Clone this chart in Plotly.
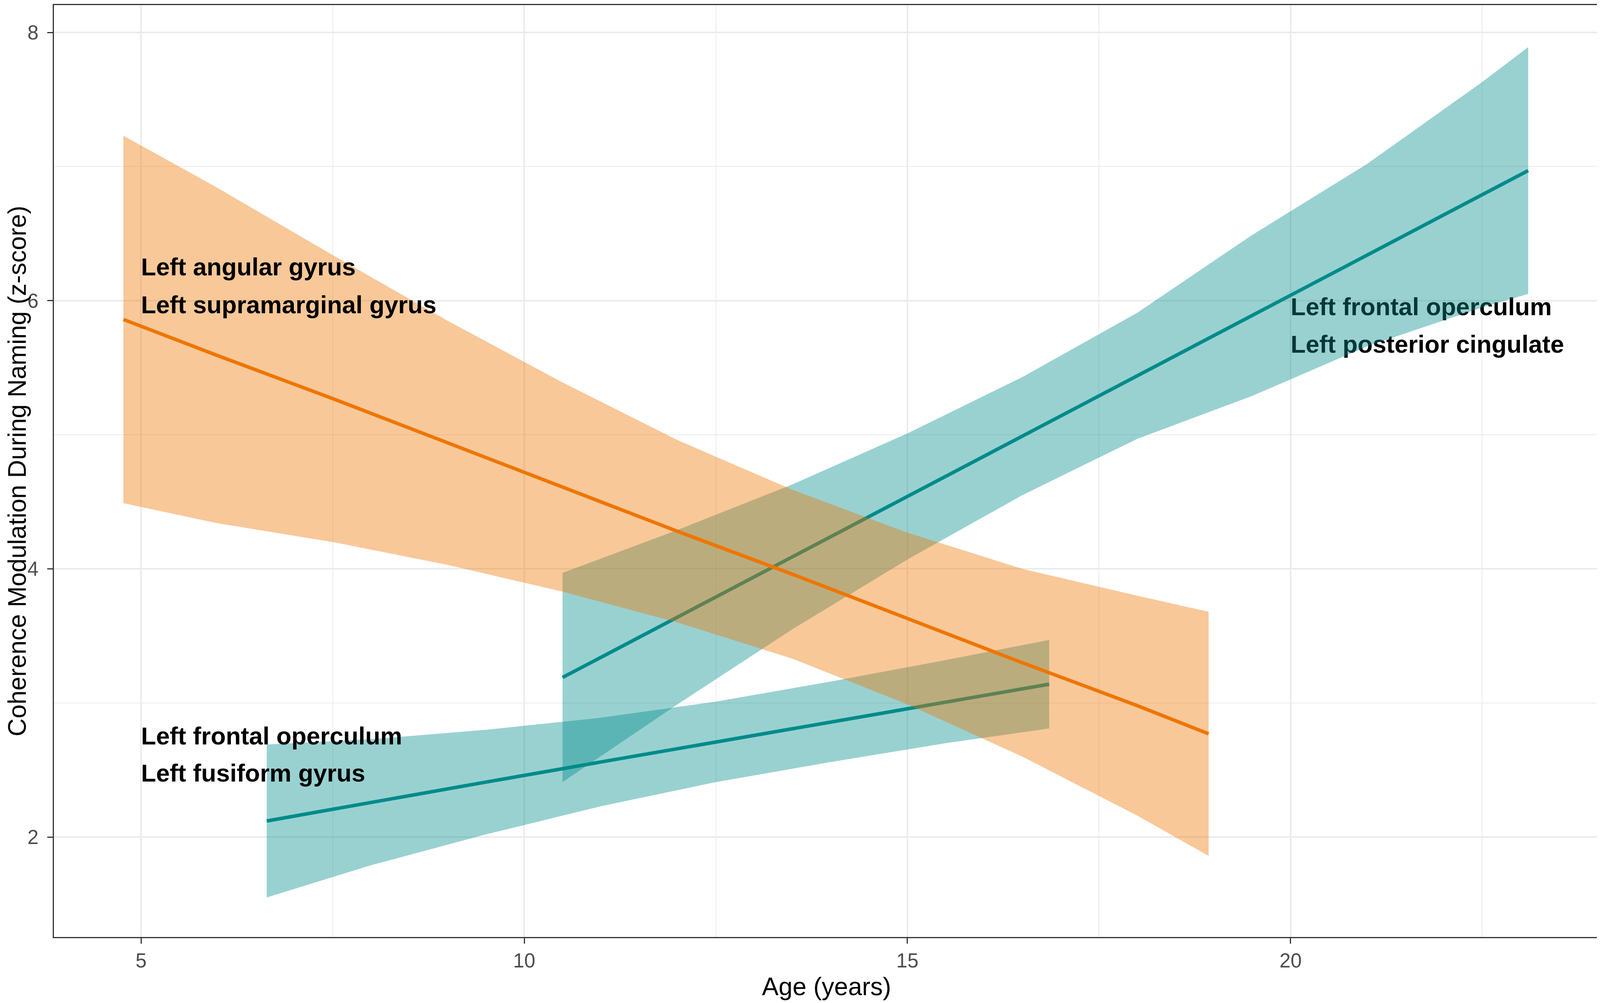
import plotly.graph_objects as go

# values

# Left angular gyrus / Left supramarginal gyrus (orange)
ang_age = [4.77, 6.0, 7.5, 9.0, 10.5, 12.0, 13.5, 15.0, 16.5, 18.0, 18.93]
ang_fit = [5.86, 5.59, 5.27, 4.94, 4.61, 4.28, 3.96, 3.63, 3.30, 2.98, 2.77]
ang_hi = [7.23, 6.84, 6.34, 5.85, 5.39, 4.96, 4.59, 4.27, 4.00, 3.80, 3.68]
ang_lo = [4.49, 4.34, 4.20, 4.03, 3.83, 3.60, 3.33, 2.99, 2.60, 2.16, 1.86]

# Left frontal operculum / Left posterior cingulate (teal, steep)
cing_age = [10.5, 12.0, 13.5, 15.0, 16.5, 18.0, 19.5, 21.0, 22.5, 23.1]
cing_fit = [3.19, 3.64, 4.09, 4.54, 4.99, 5.44, 5.89, 6.34, 6.79, 6.97]
cing_hi = [3.97, 4.29, 4.63, 5.01, 5.43, 5.91, 6.49, 7.02, 7.63, 7.89]
cing_lo = [2.41, 2.99, 3.55, 4.07, 4.55, 4.97, 5.29, 5.66, 5.95, 6.05]

# Left frontal operculum / Left fusiform gyrus (teal, shallow)
fus_age = [6.64, 8.0, 9.5, 11.0, 12.5, 14.0, 15.5, 16.85]
fus_fit = [2.12, 2.26, 2.41, 2.56, 2.71, 2.86, 3.01, 3.14]
fus_hi = [2.69, 2.73, 2.80, 2.89, 3.01, 3.16, 3.32, 3.47]
fus_lo = [1.55, 1.79, 2.02, 2.23, 2.41, 2.56, 2.70, 2.81]

x_ticks = [5, 10, 15, 20]
y_ticks = [2, 4, 6, 8]

ORANGE = '#EE7600'
TEAL = '#008B8B'
ORANGE_FILL = 'rgba(238,118,0,0.4)'
TEAL_FILL = 'rgba(0,139,139,0.4)'
FONT = 'Liberation Sans, Arial, sans-serif'


def ribbon(age, hi, lo, fill):
    return go.Scatter(x=age + age[::-1], y=hi + lo[::-1], fill='toself',
                      fillcolor=fill, line=dict(width=0), mode='lines',
                      hoverinfo='skip', showlegend=False)


def fit_line(age, fit, color):
    return go.Scatter(x=age, y=fit, mode='lines',
                      line=dict(color=color, width=9),
                      hoverinfo='skip', showlegend=False)


def label(x, ys, lines):
    return go.Scatter(x=[x] * len(ys), y=ys, mode='text', text=lines,
                      textposition='middle right',
                      textfont=dict(family=FONT, size=63, color='black', weight='bold'),
                      hoverinfo='skip', showlegend=False)


fig = go.Figure()

# drawing order follows the reference: the right label sits under the steep teal band
fig.add_trace(ribbon(fus_age, fus_hi, fus_lo, TEAL_FILL))
fig.add_trace(fit_line(fus_age, fus_fit, TEAL))
fig.add_trace(label(20, [5.937, 5.658], ['Left frontal operculum', 'Left posterior cingulate']))
fig.add_trace(ribbon(cing_age, cing_hi, cing_lo, TEAL_FILL))
fig.add_trace(fit_line(cing_age, cing_fit, TEAL))
fig.add_trace(ribbon(ang_age, ang_hi, ang_lo, ORANGE_FILL))
fig.add_trace(fit_line(ang_age, ang_fit, ORANGE))
fig.add_trace(label(5, [6.234, 5.953], ['Left angular gyrus', 'Left supramarginal gyrus']))
fig.add_trace(label(5, [2.736, 2.459], ['Left frontal operculum', 'Left fusiform gyrus']))

axis_common = dict(
    showline=True, linecolor='#333333', linewidth=3.2, mirror=True,
    ticks='outside', ticklen=14, tickwidth=3.2, tickcolor='#333333',
    tickfont=dict(family=FONT, size=51, color='#4D4D4D'),
    showgrid=True, gridcolor='#EBEBEB', gridwidth=4,
    zeroline=False,
)

fig.update_xaxes(
    range=[3.863, 24.027], tickvals=x_ticks,
    minor=dict(dtick=2.5, tick0=0, showgrid=True, gridcolor='#EBEBEB', gridwidth=2, ticks=''),
    title=dict(text='Age (years)', font=dict(family=FONT, size=64, color='black'), standoff=16),
    **axis_common
)
fig.update_yaxes(
    range=[1.255, 8.204], tickvals=y_ticks, ticklabelstandoff=12,
    minor=dict(dtick=1, tick0=0, showgrid=True, gridcolor='#EBEBEB', gridwidth=2, ticks=''),
    title=dict(text='Coherence Modulation During Naming (z-score)',
               font=dict(family=FONT, size=64, color='black'), standoff=0),
    **axis_common
)

fig.update_layout(
    width=4092, height=2560,
    margin=dict(l=130, r=6, t=2, b=169),
    plot_bgcolor='white', paper_bgcolor='white',
    font=dict(family=FONT),
)

fig.write_html("out.html")
